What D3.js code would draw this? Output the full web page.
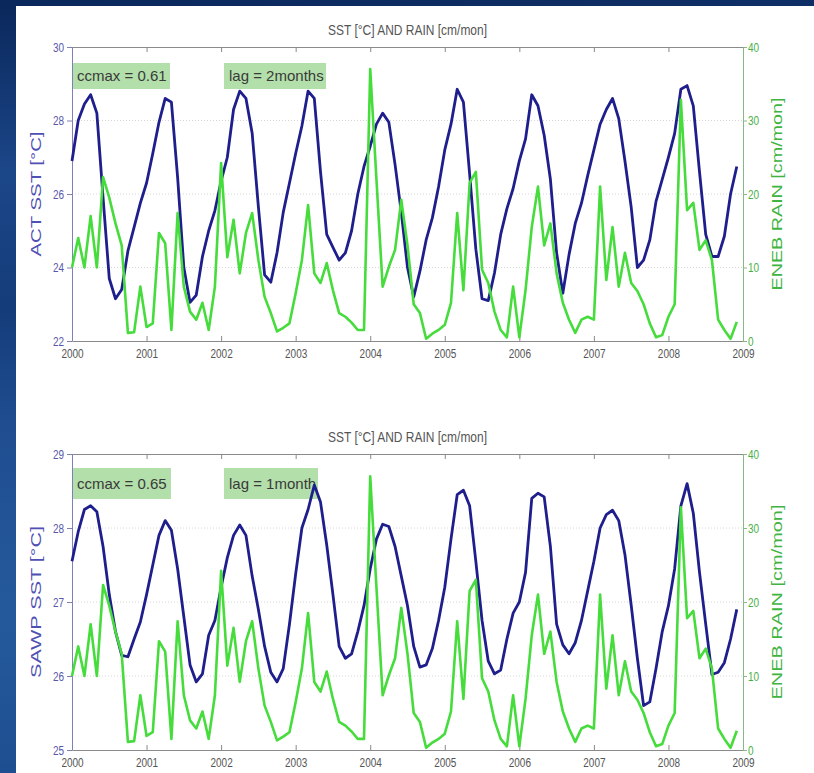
<!DOCTYPE html>
<html>
<head>
<meta charset="utf-8">
<script src="https://cdn.jsdelivr.net/npm/d3@7"></script>
<style>
  html, body { margin: 0; padding: 0; overflow: hidden; background: #fff; }
  svg { display: block; font-family: Arial, "Liberation Sans", sans-serif; }
</style>
</head>
<body>
<svg id="chart" width="814" height="773"></svg>
<script>
// tick labels
const years = [2000, 2001, 2002, 2003, 2004, 2005, 2006, 2007, 2008, 2009];
const actTicks = [22, 24, 26, 28, 30];
const sawpTicks = [25, 26, 27, 28, 29];
const rainTicks = [0, 10, 20, 30, 40];

// monthly values, Jan 2000 .. Dec 2008
const sstACT = [
  26.9, 28.0, 28.45, 28.7, 28.2, 25.9, 23.7, 23.15, 23.4, 24.45, 25.1, 25.75,
  26.3, 27.1, 27.95, 28.6, 28.5, 26.45, 24.0, 23.05, 23.25, 24.3, 25.0, 25.55,
  26.35, 27.0, 28.3, 28.8, 28.6, 27.65, 25.65, 23.8, 23.6, 24.4, 25.5, 26.3,
  27.1, 27.85, 28.8, 28.6, 26.6, 24.9, 24.55, 24.2, 24.4, 25.0, 26.0, 26.75,
  27.3, 27.9, 28.2, 27.95, 26.8, 25.5, 24.0, 23.2, 23.9, 24.75, 25.35, 26.2,
  27.2, 27.9, 28.85, 28.5, 26.55, 24.5, 23.15, 23.1, 23.85, 24.9, 25.6, 26.15,
  26.9, 27.5, 28.7, 28.4, 27.6, 26.4, 24.4, 23.3, 24.35, 25.2, 25.75, 26.5,
  27.2, 27.9, 28.3, 28.6, 28.05, 26.9, 25.65, 24.0, 24.2, 24.75, 25.8, 26.4,
  27.0, 27.65, 28.85, 28.95, 28.4, 26.6, 24.9, 24.3, 24.3, 24.85, 26.0, 26.75
];

const sstSAWP = [
  27.55, 27.95, 28.25, 28.3, 28.22, 27.75, 27.1, 26.6, 26.28, 26.26, 26.5, 26.73,
  27.1, 27.5, 27.9, 28.1, 27.97, 27.45, 26.8, 26.15, 25.92, 26.03, 26.55, 26.75,
  27.2, 27.6, 27.9, 28.04, 27.9, 27.35, 26.9, 26.4, 26.05, 25.92, 26.1, 26.7,
  27.38, 28.0, 28.25, 28.58, 28.35, 27.77, 27.1, 26.4, 26.24, 26.3, 26.6, 26.95,
  27.45, 27.85, 28.05, 28.02, 27.75, 27.35, 26.95, 26.4, 26.12, 26.15, 26.37, 26.75,
  27.2, 27.85, 28.45, 28.51, 28.3, 27.55, 26.75, 26.2, 26.03, 26.08, 26.5, 26.85,
  27.0, 27.4, 28.4, 28.47, 28.42, 27.75, 26.7, 26.42, 26.3, 26.45, 26.75, 27.15,
  27.55, 28.0, 28.18, 28.24, 28.1, 27.64, 26.96, 26.24, 25.6, 25.65, 26.1, 26.6,
  26.95, 27.45, 28.3, 28.6, 28.2, 27.4, 26.7, 26.02, 26.05, 26.18, 26.5, 26.9
];

const rainENEB = [
  10, 14, 10, 17, 10, 22.3, 19.5, 16, 13, 1.1, 1.2, 7.4,
  1.9, 2.4, 14.7, 13.3, 1.5, 17.4, 7.4, 4, 2.9, 5.2, 1.5, 7.4,
  24.2, 11.4, 16.5, 9.2, 14.7, 17.4, 11, 6, 3.8, 1.3, 1.8, 2.4,
  6.5, 11, 18.5, 9.2, 7.9, 10.6, 6.9, 3.8, 3.3, 2.5, 1.5, 1.5,
  37, 22, 7.4, 10.1, 12.4, 19.2, 13, 5, 3.8, 0.3, 1, 1.5,
  2.2, 5.2, 17.4, 6.9, 21.5, 23, 9.7, 7.9, 4, 1.5, 0.5, 7.4,
  0.5, 6.9, 15.5, 21, 13, 16, 9.2, 5.2, 2.9, 1.1, 2.9, 3.3,
  2.9, 21, 8.3, 15.5, 7.4, 12, 7.9, 6.8, 5, 2.4, 0.5, 0.8,
  3.3, 5, 32.8, 17.8, 18.8, 12.4, 13.7, 11, 2.9, 1.5, 0.3, 2.6
];

const svg = d3.select('#chart');

// slide background
const defs = svg.append('defs');
const side = defs.append('linearGradient').attr('id', 'side').attr('x1', 0).attr('y1', 0).attr('x2', 0).attr('y2', 1);
[[0, '#0a275a'], [0.22, '#1b4688'], [0.4, '#143c7a'], [0.55, '#1f4d90'], [0.8, '#245a9c'], [1, '#1d4e90']]
  .forEach(([o, c]) => side.append('stop').attr('offset', o).attr('stop-color', c));
const topBand = defs.append('linearGradient').attr('id', 'topband');
[[0, '#0b285c'], [1, '#0e2f66']].forEach(([o, c]) => topBand.append('stop').attr('offset', o).attr('stop-color', c));

svg.append('rect').attr('width', 814).attr('height', 773).attr('fill', 'url(#side)');
svg.append('rect').attr('width', 814).attr('height', 6).attr('fill', 'url(#topband)');
svg.append('rect').attr('x', 16).attr('y', 6).attr('width', 798).attr('height', 767).attr('fill', '#fff');

const BLUE = '#1e1e8c';
const GREEN = '#45dc3c';

function drawPanel(cfg) {
  const { top, bottom, left, right } = cfg;
  const g = svg.append('g');

  const x = d3.scaleLinear().domain([2000, 2009]).range([left, right]);
  const yL = d3.scaleLinear().domain(d3.extent(cfg.sstTicks)).range([bottom, top]);
  const yR = d3.scaleLinear().domain(d3.extent(rainTicks)).range([bottom, top]);

  // faint grid
  g.append('g').selectAll('line')
    .data(cfg.sstTicks.slice(1, -1))
    .join('line')
    .attr('x1', left).attr('x2', right)
    .attr('y1', d => yL(d)).attr('y2', d => yL(d))
    .attr('stroke', '#d6d6d6').attr('stroke-dasharray', '1,2');

  // title
  g.append('text')
    .attr('transform', `translate(${(left + right) / 2},${top - 12}) scale(1,1.3)`)
    .attr('text-anchor', 'middle')
    .attr('font-size', 11)
    .attr('textLength', 159).attr('lengthAdjust', 'spacingAndGlyphs')
    .attr('fill', '#555')
    .text('SST [°C] AND RAIN [cm/mon]');

  // annotation boxes
  cfg.notes.forEach(n => {
    g.append('rect')
      .attr('x', n.x).attr('y', n.y).attr('width', n.w).attr('height', n.h)
      .attr('fill', '#b2dfaa');
    g.append('text')
      .attr('x', n.x + 5).attr('y', n.y + n.h / 2 + 5)
      .attr('font-size', 15).attr('fill', '#3a3a3a')
      .text(n.text);
  });

  // axes
  const axB = g.append('g').attr('transform', `translate(0,${bottom})`)
    .call(d3.axisBottom(x).tickValues(years).tickSize(-5).tickSizeOuter(0).tickPadding(6).tickFormat(d3.format('d')));
  const axT = g.append('g').attr('transform', `translate(0,${top})`)
    .call(d3.axisTop(x).tickValues(years).tickSize(-5).tickSizeOuter(0).tickFormat(''));
  const axL = g.append('g').attr('transform', `translate(${left},0)`)
    .call(d3.axisLeft(yL).tickValues(cfg.sstTicks).tickSize(5).tickSizeOuter(0).tickPadding(3).tickFormat(d3.format('d')));
  const axR = g.append('g').attr('transform', `translate(${right},0)`)
    .call(d3.axisRight(yR).tickValues(rainTicks).tickSize(4).tickSizeOuter(0).tickPadding(1).tickFormat(d3.format('d')));

  [axB, axT].forEach(a => {
    a.select('.domain').attr('stroke', '#8a8a8a');
    a.selectAll('.tick line').attr('stroke', '#8a8a8a');
  });
  axB.selectAll('text').attr('fill', '#555').attr('font-size', 10).attr('transform', 'scale(1,1.3)');
  axL.select('.domain').attr('stroke', '#8080b8');
  axL.selectAll('.tick line').attr('stroke', '#8080b8');
  axL.selectAll('text').attr('fill', '#5858a8').attr('font-size', 10).attr('transform', 'scale(1,1.3)');
  axR.select('.domain').attr('stroke', '#88b888');
  axR.selectAll('.tick line').attr('stroke', '#88b888');
  axR.selectAll('text').attr('fill', '#48b048').attr('font-size', 10).attr('transform', 'scale(1,1.3)');

  // axis titles
  const midY = (top + bottom) / 2;
  g.append('text')
    .attr('transform', `translate(${left - 31},${midY}) rotate(-90)`)
    .attr('text-anchor', 'middle')
    .attr('font-size', 15)
    .attr('textLength', cfg.leftLen).attr('lengthAdjust', 'spacingAndGlyphs')
    .attr('fill', '#5050b4')
    .text(cfg.leftLabel);
  g.append('text')
    .attr('transform', `translate(${right + 39},${midY}) rotate(-90)`)
    .attr('text-anchor', 'middle')
    .attr('font-size', 15)
    .attr('textLength', cfg.rightLen).attr('lengthAdjust', 'spacingAndGlyphs')
    .attr('fill', '#40b440')
    .text('ENEB RAIN [cm/mon]');

  // series
  const lineL = d3.line().x((d, i) => x(2000 + i / 12)).y(d => yL(d));
  const lineR = d3.line().x((d, i) => x(2000 + i / 12)).y(d => yR(d));

  g.append('path').datum(cfg.sst)
    .attr('d', lineL).attr('fill', 'none')
    .attr('stroke', BLUE).attr('stroke-width', 2.8)
    .attr('stroke-linejoin', 'round');
  g.append('path').datum(rainENEB)
    .attr('d', lineR).attr('fill', 'none')
    .attr('stroke', GREEN).attr('stroke-width', 2.6)
    .attr('stroke-linejoin', 'round');
}

drawPanel({
  top: 47, bottom: 341, left: 72, right: 743,
  sstTicks: actTicks, sst: sstACT,
  leftLabel: 'ACT SST [°C]', leftLen: 125, rightLen: 193,
  notes: [
    { x: 72, y: 63, w: 98, h: 26, text: 'ccmax = 0.61' },
    { x: 224, y: 63, w: 102, h: 26, text: 'lag = 2months' }
  ]
});

drawPanel({
  top: 454, bottom: 750, left: 72, right: 743,
  sstTicks: sawpTicks, sst: sstSAWP,
  leftLabel: 'SAWP SST [°C]', leftLen: 152, rightLen: 195,
  notes: [
    { x: 72, y: 468, w: 99, h: 31, text: 'ccmax = 0.65' },
    { x: 224, y: 468, w: 94, h: 31, text: 'lag = 1month' }
  ]
});
</script>
</body>
</html>
